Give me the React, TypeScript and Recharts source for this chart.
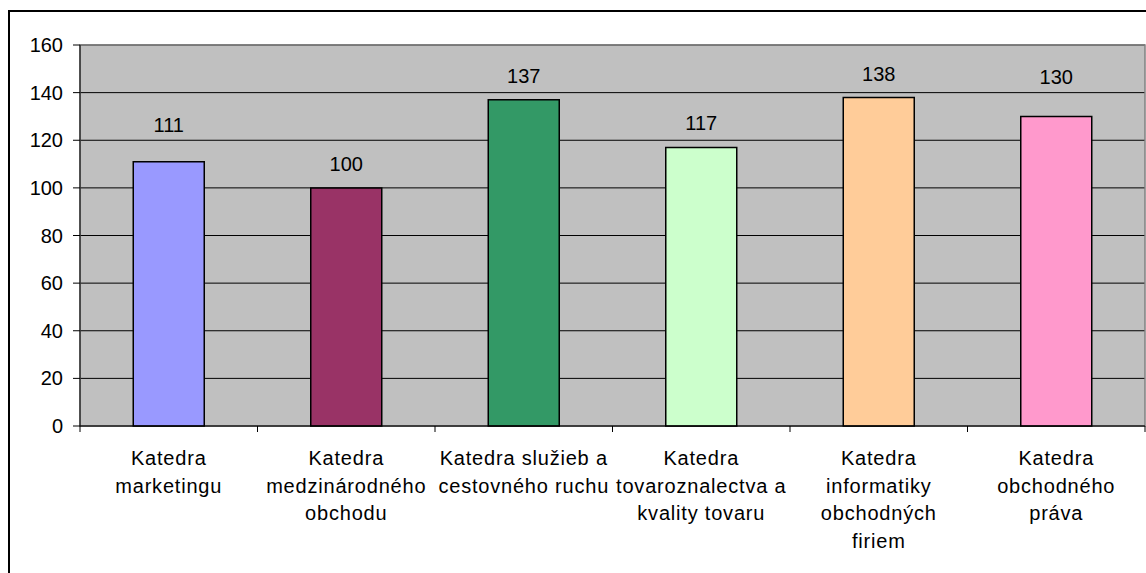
import React from 'react';
import {
  BarChart, Bar, XAxis, YAxis, CartesianGrid, Cell, LabelList, ReferenceArea
} from 'recharts';

const CATEGORIES = [
  'Katedra\nmarketingu',
  'Katedra\nmedzinárodného\nobchodu',
  'Katedra služieb a\ncestovného ruchu',
  'Katedra\ntovaroznalectva a\nkvality tovaru',
  'Katedra\ninformatiky\nobchodných\nfiriem',
  'Katedra\nobchodného\npráva',
];
const VALUES = [111, 100, 137, 117, 138, 130];
const BAR_COLORS = ['#9999FF', '#993366', '#339966', '#CCFFCC', '#FFCC99', '#FF99CC'];
const Y_TICKS = [0, 20, 40, 60, 80, 100, 120, 140, 160];

// distance (px) from bar top to the label baseline, as placed in the original
const LABEL_LIFT = [30, 17, 17, 17, 16, 32];

const W = 1146;
const H = 573;
const MARGIN = { top: 45, right: 1, bottom: 0, left: 20 };
const Y_AXIS_W = 60;
const X_AXIS_H = 147;
const STEP = (W - MARGIN.left - MARGIN.right - Y_AXIS_W) / CATEGORIES.length;
const FONT = '"Liberation Sans", Arial, sans-serif';

const data = CATEGORIES.map((name, i) => ({ name, value: VALUES[i] }));

const CategoryTick = (props: any) => {
  const { x, y, payload, index } = props;
  const lines = String(payload.value).split('\n');
  const half = STEP / 2;
  return (
    <g>
      <line x1={x - half} x2={x - half} y1={y} y2={y + 6} stroke="#000" />
      {index === CATEGORIES.length - 1 && (
        <line x1={x + half} x2={x + half} y1={y} y2={y + 6} stroke="#000" />
      )}
      <text textAnchor="middle" fontFamily={FONT} fontSize={20} letterSpacing={0.8} fill="#000">
        {lines.map((l, i) => (
          <tspan key={i} x={x} y={y + 39 + i * 27.5}>{l}</tspan>
        ))}
      </text>
    </g>
  );
};

const ValueLabel = (p: any) => (
  <text
    x={p.x + p.width / 2}
    y={p.y - LABEL_LIFT[p.index]}
    textAnchor="middle"
    fontFamily={FONT}
    fontSize={20}
    fill="#000"
  >
    {p.value}
  </text>
);

export default function App() {
  return (
    <div style={{ position: 'absolute', left: 0, top: 0, width: W, height: H, overflow: 'hidden', background: '#fff' }}>
      <div style={{ position: 'absolute', left: 8, top: 10, width: W, height: H, borderTop: '2px solid #000', borderLeft: '2px solid #000' }} />
      <div style={{ position: 'absolute', left: 0, top: 0 }}>
        <BarChart width={W} height={H} data={data} margin={MARGIN} barCategoryGap="30%">
          <CartesianGrid vertical={false} stroke="#000" fill="#C0C0C0" fillOpacity={1} />
          <ReferenceArea y1={0} y2={160} fill="none" stroke="#808080" strokeWidth={1.5} />
          <XAxis
            dataKey="name"
            height={X_AXIS_H}
            interval={0}
            tickLine={false}
            tickSize={0}
            tickMargin={0}
            axisLine={{ stroke: '#000' }}
            tick={<CategoryTick />}
          />
          <YAxis
            width={Y_AXIS_W}
            domain={[0, 160]}
            ticks={Y_TICKS}
            interval={0}
            tickSize={7}
            tickMargin={10}
            axisLine={{ stroke: '#000' }}
            tickLine={{ stroke: '#000' }}
            tick={{ fill: '#000', fontSize: 20, fontFamily: FONT }}
          />
          <Bar dataKey="value" stroke="#000" strokeWidth={1.5} isAnimationActive={false}>
            {data.map((d, i) => (
              <Cell key={d.name} fill={BAR_COLORS[i]} />
            ))}
            <LabelList dataKey="value" content={<ValueLabel />} />
          </Bar>
        </BarChart>
      </div>
    </div>
  );
}
